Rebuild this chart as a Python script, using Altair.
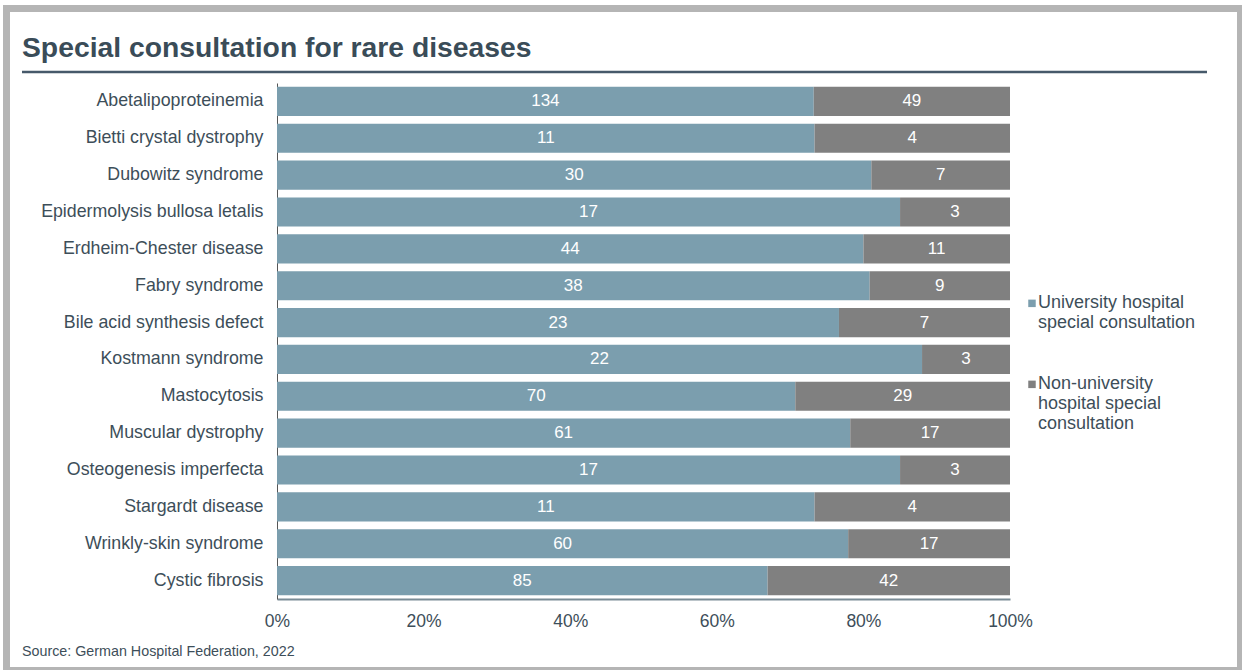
import altair as alt
import pandas as pd

diseases = [
    "Abetalipoproteinemia", "Bietti crystal dystrophy", "Dubowitz syndrome",
    "Epidermolysis bullosa letalis", "Erdheim-Chester disease", "Fabry syndrome",
    "Bile acid synthesis defect", "Kostmann syndrome", "Mastocytosis",
    "Muscular dystrophy", "Osteogenesis imperfecta", "Stargardt disease",
    "Wrinkly-skin syndrome", "Cystic fibrosis",
]
university = [134, 11, 30, 17, 44, 38, 23, 22, 70, 61, 17, 11, 60, 85]
non_university = [49, 4, 7, 3, 11, 9, 7, 3, 29, 17, 3, 4, 17, 42]
series_names = ["University hospital special consultation",
                "Non-university hospital special consultation"]
x_ticks = [0, 0.2, 0.4, 0.6, 0.8, 1.0]
title_text = "Special consultation for rare diseases"
source_text = "Source: German Hospital Federation, 2022"

rows = []
for i, d in enumerate(diseases):
    rows.append({"disease": d, "series": series_names[0], "order": 0, "value": university[i]})
    rows.append({"disease": d, "series": series_names[1], "order": 1, "value": non_university[i]})
df = pd.DataFrame(rows)

FONT = "Liberation Sans"
TEXT = "#3d4e59"
BLUE = "#7b9eae"
GRAY = "#808080"

base = alt.Chart(df).transform_stack(
    stack="value", groupby=["disease"], as_=["x0", "x1"], offset="normalize",
    sort=[alt.SortField("order", order="ascending")],
).transform_calculate(mid="(datum.x0 + datum.x1) / 2")

y_enc = alt.Y(
    "disease:N", sort=diseases, title=None,
    scale=alt.Scale(paddingInner=0.21, paddingOuter=0.105),
    axis=alt.Axis(labelFont=FONT, labelFontSize=17.8, labelColor=TEXT, labelPadding=14,
                  ticks=False, domain=True, domainColor="#555555", domainWidth=1,
                  labelLimit=0),
)

legend_expr = ("datum.label == 'University hospital special consultation' ? "
               "['University hospital', 'special consultation'] : "
               "['Non-university', 'hospital special', 'consultation']")

bars = base.mark_bar().encode(
    x=alt.X("x0:Q", title=None, scale=alt.Scale(domain=[0, 1]),
            axis=alt.Axis(format="%", values=x_ticks, labelFont=FONT, labelFontSize=17.5,
                          labelColor=TEXT, labelPadding=13, ticks=False, grid=False,
                          labelFlush=False, domainColor="#7a8c96", domainWidth=2)),
    x2="x1:Q",
    y=y_enc,
    color=alt.Color("series:N", scale=alt.Scale(domain=series_names, range=[BLUE, GRAY]),
                    legend=alt.Legend(title=None, orient="none", legendX=743, legendY=202,
                                      symbolType="M-0.2,1.5H1.8V3.5H-0.2Z", symbolSize=56,
                                      symbolStrokeWidth=0,
                                      labelFont=FONT, labelFontSize=18, labelColor=TEXT,
                                      labelExpr=legend_expr, labelLimit=0, labelOffset=0,
                                      labelBaseline="top", rowPadding=34)),
)

labels = base.mark_text(color="white", fontSize=17, font=FONT).encode(
    x=alt.X("mid:Q"),
    y=alt.Y("disease:N", sort=diseases),
    text=alt.Text("value:Q"),
)

one = pd.DataFrame({"a": [0]})

title = alt.Chart(one).mark_text(
    text=title_text, font=FONT, fontSize=28.3, fontWeight="bold", color="#3a4c58",
    align="left", baseline="alphabetic",
).encode(x=alt.value(-255), y=alt.value(-26))

underline = alt.Chart(one).mark_rule(color="#46596a", strokeWidth=2.5).encode(
    x=alt.value(-255), x2=alt.value(930), y=alt.value(-11))

source = alt.Chart(one).mark_text(
    text=source_text, font=FONT, fontSize=14.3, color=TEXT, align="left",
    baseline="alphabetic",
).encode(x=alt.value(-255), y=alt.value(573))

frame = alt.Chart(one).mark_rect(fillOpacity=0, stroke="#b5b5b5", strokeWidth=7).encode(
    x=alt.value(-270.5), x2=alt.value(963.5), y=alt.value(-74.5), y2=alt.value(587.5))

chart = alt.layer(bars, labels, title, underline, source, frame).properties(
    width=733, height=516,
    padding={"left": 277, "top": 83, "right": 232, "bottom": 71},
    autosize=alt.AutoSizeParams(type="none"),
    background="white",
).configure_view(stroke=None)

chart.save("out.html", embed_options={"renderer": "svg", "actions": False})
